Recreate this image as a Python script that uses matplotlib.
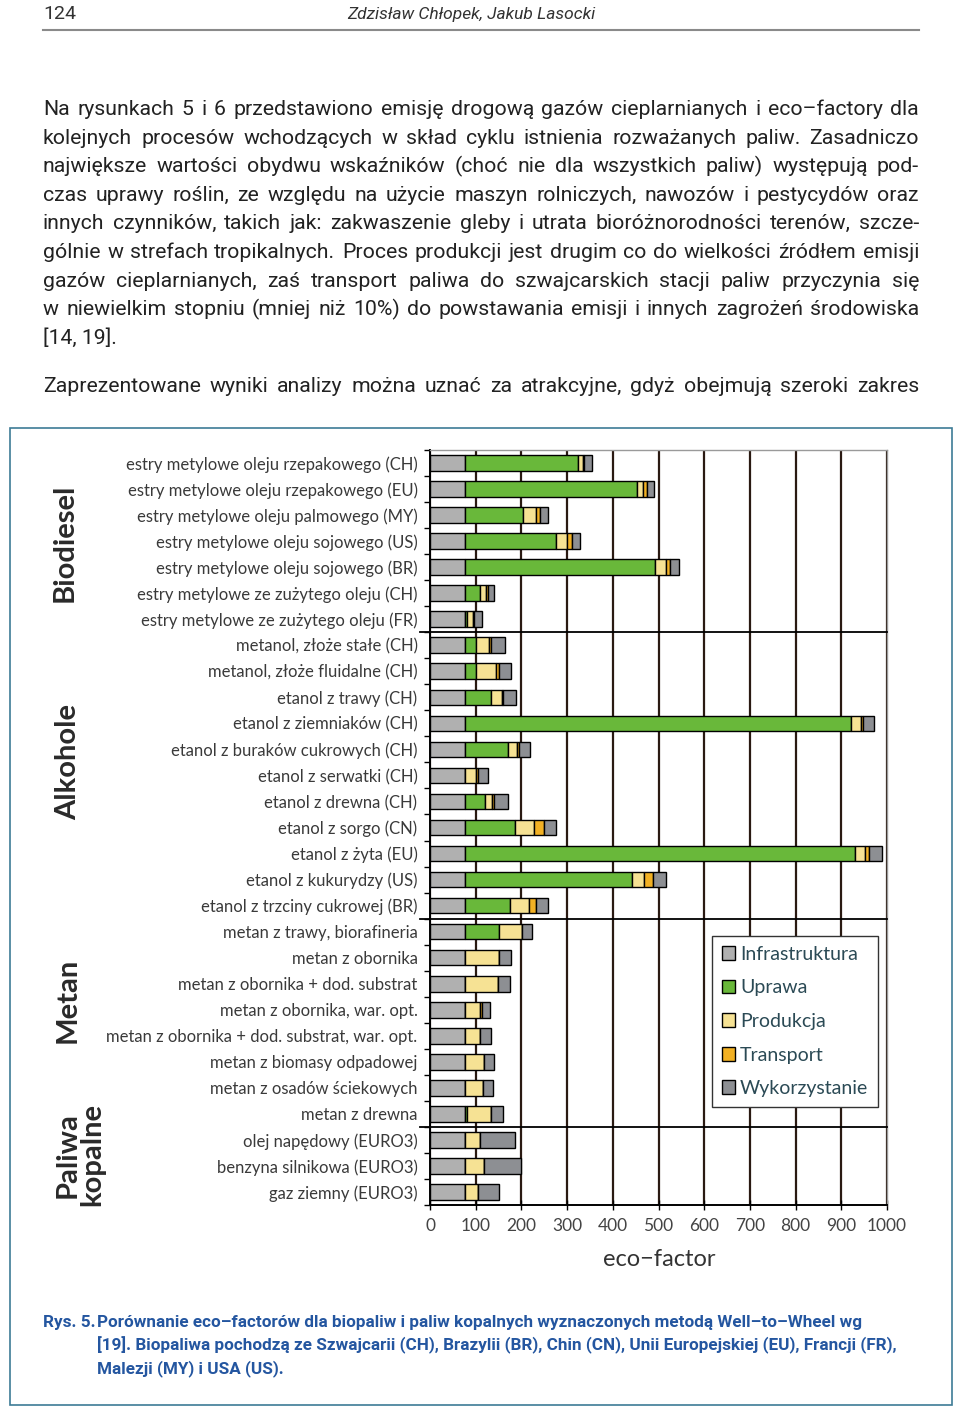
import matplotlib
matplotlib.use('Agg')
import numpy as np
import matplotlib.pyplot as plt
from matplotlib.patches import Rectangle
from matplotlib.lines import Line2D

# chart data (eco-factor)
labels = [
    'estry metylowe oleju rzepakowego (CH)',
    'estry metylowe oleju rzepakowego (EU)',
    'estry metylowe oleju palmowego (MY)',
    'estry metylowe oleju sojowego (US)',
    'estry metylowe oleju sojowego (BR)',
    'estry metylowe ze zużytego oleju (CH)',
    'estry metylowe ze zużytego oleju (FR)',
    'metanol, złoże stałe (CH)',
    'metanol, złoże fluidalne (CH)',
    'etanol z trawy (CH)',
    'etanol z ziemniaków (CH)',
    'etanol z buraków cukrowych (CH)',
    'etanol z serwatki (CH)',
    'etanol z drewna (CH)',
    'etanol z sorgo (CN)',
    'etanol z żyta (EU)',
    'etanol z kukurydzy (US)',
    'etanol z trzciny cukrowej (BR)',
    'metan z trawy, biorafineria',
    'metan z obornika',
    'metan z obornika + dod. substrat',
    'metan z obornika, war. opt.',
    'metan z obornika + dod. substrat, war. opt.',
    'metan z biomasy odpadowej',
    'metan z osadów ściekowych',
    'metan z drewna',
    'olej napędowy (EURO3)',
    'benzyna silnikowa (EURO3)',
    'gaz ziemny (EURO3)',
]
infrastruktura = [77, 77, 77, 77, 77, 77, 77, 77, 77, 77, 77, 77, 77, 77, 77,
                  77, 77, 77, 77, 77, 77, 77, 77, 77, 77, 77, 77, 77, 77]
uprawa = [246, 376, 126, 199, 416, 33, 3, 24, 24, 57, 845, 93, 0, 43, 108,
          854, 364, 99, 75, 0, 0, 0, 0, 0, 0, 5, 0, 0, 0]
produkcja = [12, 13, 29, 24, 24, 12, 13, 28, 44, 24, 21, 21, 23, 16, 42,
             21, 28, 40, 49, 75, 72, 33, 33, 41, 39, 52, 33, 42, 27]
transport = [3, 8, 8, 11, 8, 5, 4, 5, 6, 2, 4, 3, 5, 4, 22,
             9, 18, 16, 1, 0, 0, 3, 0, 0, 0, 0, 0, 0, 0]
wykorzystanie = [17, 17, 18, 17, 20, 14, 16, 31, 26, 28, 24, 24, 23, 30, 27,
                 29, 30, 26, 21, 25, 25, 18, 23, 22, 21, 25, 76, 80, 48]
series_names = ['Infrastruktura', 'Uprawa', 'Produkcja', 'Transport', 'Wykorzystanie']
groups = ['Biodiesel', 'Alkohole', 'Metan', 'Paliwa\nkopalne']
group_breaks = [6.5, 17.5, 25.5]

series = [infrastruktura, uprawa, produkcja, transport, wykorzystanie]
colors = ['#b0b0b0', '#69b83a', '#f6e294', '#f2b124', '#8d8f93']

# page text
header_page = '124'
header_authors = 'Zdzisław Chłopek, Jakub Lasocki'
para_lines = [
    'Na rysunkach 5 i 6 przedstawiono emisję drogową gazów cieplarnianych i eco–factory dla',
    'kolejnych procesów wchodzących w skład cyklu istnienia rozważanych paliw. Zasadniczo',
    'największe wartości obydwu wskaźników (choć nie dla wszystkich paliw) występują pod-',
    'czas uprawy roślin, ze względu na użycie maszyn rolniczych, nawozów i pestycydów oraz',
    'innych czynników, takich jak: zakwaszenie gleby i utrata bioróżnorodności terenów, szcze-',
    'gólnie w strefach tropikalnych. Proces produkcji jest drugim co do wielkości źródłem emisji',
    'gazów cieplarnianych, zaś transport paliwa do szwajcarskich stacji paliw przyczynia się',
    'w niewielkim stopniu (mniej niż 10%) do powstawania emisji i innych zagrożeń środowiska',
    '[14, 19].',
]
para2 = 'Zaprezentowane wyniki analizy można uznać za atrakcyjne, gdyż obejmują szeroki zakres'
caption_head = 'Rys. 5.'
caption_lines = [
    'Porównanie eco–factorów dla biopaliw i paliw kopalnych wyznaczonych metodą Well–to–Wheel wg',
    '[19]. Biopaliwa pochodzą ze Szwajcarii (CH), Brazylii (BR), Chin (CN), Unii Europejskiej (EU), Francji (FR),',
    'Malezji (MY) i USA (US).',
]

W, H = 960, 1407
plt.rcParams['font.family'] = ['Lato', 'DejaVu Sans']
fig = plt.figure(figsize=(W / 100, H / 100), dpi=100)
fig.patch.set_facecolor('white')


def fx(x):
    return x / W


def fy(y):
    return 1 - y / H


# ---- chart ----
ax = fig.add_axes([fx(430), fy(1205), 457 / W, 755 / H])
ypos = np.arange(len(labels))
left = np.zeros(len(labels))
for name, vals, col in zip(series_names, series, colors):
    ax.barh(ypos, vals, left=left, height=0.6, color=col, edgecolor='black',
            linewidth=1.0, label=name, zorder=3)
    left += np.array(vals)

ax.set_xlim(0, 1000)
ax.set_ylim(len(labels) - 0.5, -0.5)
ax.set_xticks(np.arange(0, 1001, 100))
ax.xaxis.grid(True, color='#2a1a12', linewidth=1.6)
ax.set_axisbelow(True)
ax.set_yticks(ypos)
ax.set_yticklabels(labels, fontsize=12, color='#3a3a3a')
ax.set_yticks(np.arange(-0.5, len(labels)), minor=True)
ax.tick_params(axis='y', which='major', length=0, pad=9)
ax.tick_params(axis='y', which='minor', length=4, width=1, direction='out')
ax.tick_params(axis='x', length=7, width=1, direction='inout', labelsize=12.5,
               labelcolor='#444444', pad=6)
for s in ['left', 'bottom']:
    ax.spines[s].set_color('black')
    ax.spines[s].set_linewidth(1.4)
for s in ['top', 'right']:
    ax.spines[s].set_color('#9a9a9a')
    ax.spines[s].set_linewidth(1)

for b in group_breaks:
    ax.plot([-22, 1000], [b, b], color='black', lw=1.3, clip_on=False, zorder=4)

leg = ax.legend(loc='upper left', bbox_to_anchor=(0.617, 0.356), fontsize=14,
                frameon=True, fancybox=False, edgecolor='#333333', framealpha=1,
                handlelength=0.7, handleheight=0.7, handletextpad=0.25,
                labelspacing=0.85, borderpad=0.5, borderaxespad=0)
for t in leg.get_texts():
    t.set_color('#2b4a55')

fig.text(fx(659), fy(1259), 'eco−factor', ha='center', va='center', fontsize=17,
         color='#333333')

# group labels
group_pos = [(65, 543), (68, 762), (68, 1000), (80, 1155)]
for g, (gx, gy) in zip(groups, group_pos):
    fig.text(fx(gx), fy(gy), g, rotation=90, ha='center', va='center',
             fontsize=21, fontweight='bold', color='#2a2a2a',
             multialignment='center', linespacing=0.95)

fig.patches.append(Rectangle((fx(10), fy(1405)), 942 / W, 977 / H,
                             transform=fig.transFigure, fill=False,
                             edgecolor='#3d7c96', lw=1.2))

# ---- page text ----
page_font = ['Roboto', 'DejaVu Sans']
fig.text(fx(43), fy(19), header_page, fontsize=14, family=page_font,
         color='#333333', va='baseline')
fig.text(fx(471), fy(19), header_authors, fontsize=12.5, family=page_font,
         color='#333333', ha='center', va='baseline', style='italic')
fig.add_artist(Line2D([fx(43), fx(919)], [fy(30), fy(30)], color='#8a8a8a', lw=1.5))

renderer = fig.canvas.get_renderer()
para_size = 15.3


def justify(line, base, x0=43, x1=919, size=para_size):
    words = line.split(' ')
    ts = [fig.text(0, 0, w, fontsize=size, family=page_font, color='#222222',
                   va='baseline') for w in words]
    widths = [t.get_window_extent(renderer).width for t in ts]
    gap = (x1 - x0 - sum(widths)) / (len(words) - 1)
    x = x0
    for t, w in zip(ts, widths):
        t.set_position((fx(x), fy(base)))
        x += w + gap


bases = [115, 144, 172, 201, 229, 258, 287, 315, 344]
for line, b in zip(para_lines, bases):
    if line == para_lines[-1]:
        fig.text(fx(43), fy(b), line, fontsize=para_size, family=page_font,
                 color='#222222', va='baseline')
    else:
        justify(line, b)
justify(para2, 392)

cap_color = '#2456a0'
cap_size = 12.3
fig.text(fx(43), fy(1327), caption_head, fontsize=cap_size, family=page_font,
         fontweight='bold', color=cap_color, va='baseline')
for line, b in zip(caption_lines, [1327, 1350, 1373]):
    fig.text(fx(97), fy(b), line, fontsize=cap_size, family=page_font,
             fontweight='bold', color=cap_color, va='baseline')

fig.savefig('out.png', dpi=100)
